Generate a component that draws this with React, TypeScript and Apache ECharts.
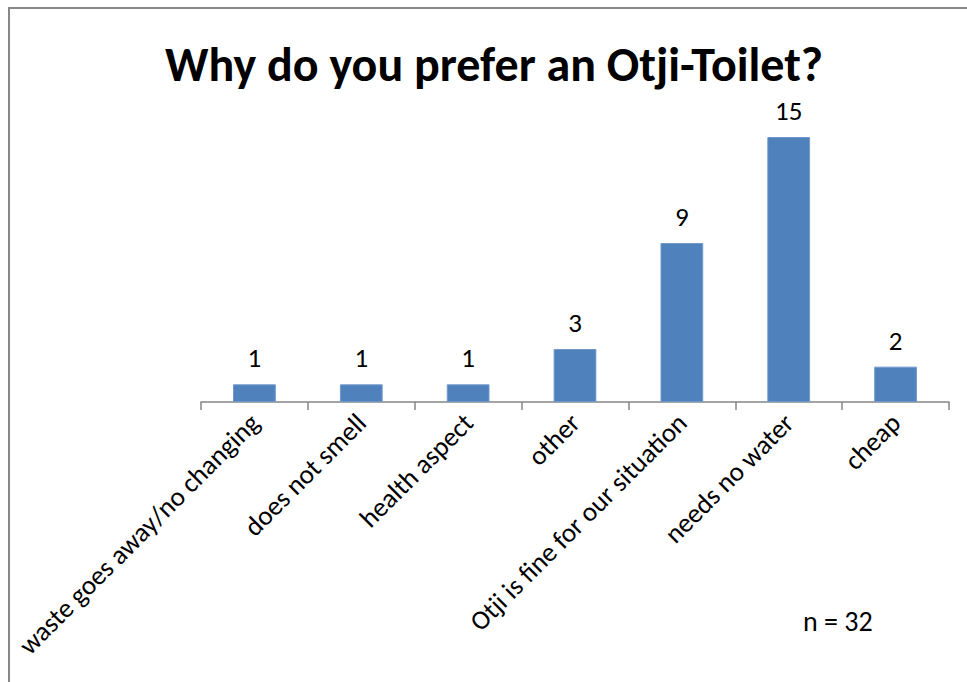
import React, { useEffect, useRef } from "react";
import * as echarts from "echarts";

const categories = [
  "waste goes away/no changing",
  "does not smell",
  "health aspect",
  "other",
  "Otji is fine for our situation",
  "needs no water",
  "cheap",
];
const counts = [1, 1, 1, 3, 9, 15, 2];
const titleText = "Why do you prefer an Otji-Toilet?";
const noteText = "n = 32";

const FONT = "Carlito, Calibri, Lato, 'Open Sans', sans-serif";

export default function App() {
  const ref = useRef<HTMLDivElement>(null);
  useEffect(() => {
    if (!ref.current) return;
    const chart = echarts.init(ref.current, null, { renderer: "svg" });
    chart.setOption({
      animation: false,
      backgroundColor: "#ffffff",
      grid: { left: 201, right: 18, top: 137, bottom: 280, containLabel: false },
      xAxis: {
        type: "category",
        data: categories,
        axisLine: { show: true, lineStyle: { color: "#868686", width: 1.5 } },
        axisTick: { show: true, length: 8, lineStyle: { color: "#868686", width: 1.5 } },
        axisLabel: {
          interval: 0,
          rotate: 45,
          margin: 16,
          color: "#000",
          fontSize: 27,
          fontFamily: FONT,
        },
      },
      yAxis: {
        type: "value",
        min: 0,
        max: 15,
        show: false,
        splitLine: { show: false },
      },
      series: [
        {
          type: "bar",
          data: counts,
          barWidth: "40%",
          itemStyle: { color: "#4F81BD", borderColor: "#6F98CB", borderWidth: 1 },
          label: {
            show: true,
            position: "top",
            distance: 13,
            color: "#000",
            fontSize: 27,
            fontFamily: FONT,
          },
        },
      ],
      graphic: [
        {
          type: "rect",
          shape: { x: 9, y: 8, width: 980, height: 700 },
          style: { fill: "none", stroke: "#878787", lineWidth: 2 },
          silent: true,
        },
        {
          type: "text",
          x: 494,
          y: 64,
          style: {
            text: titleText,
            fill: "#000",
            font: `bold 48px ${FONT}`,
            textAlign: "center",
            textVerticalAlign: "middle",
          },
        },
        {
          type: "text",
          x: 803,
          y: 621,
          style: {
            text: noteText,
            fill: "#000",
            font: `28px ${FONT}`,
            textAlign: "left",
            textVerticalAlign: "middle",
          },
        },
      ],
    });
    return () => chart.dispose();
  }, []);
  return (
    <div
      ref={ref}
      style={{ position: "fixed", left: 0, top: 0, width: 967, height: 682 }}
    />
  );
}
